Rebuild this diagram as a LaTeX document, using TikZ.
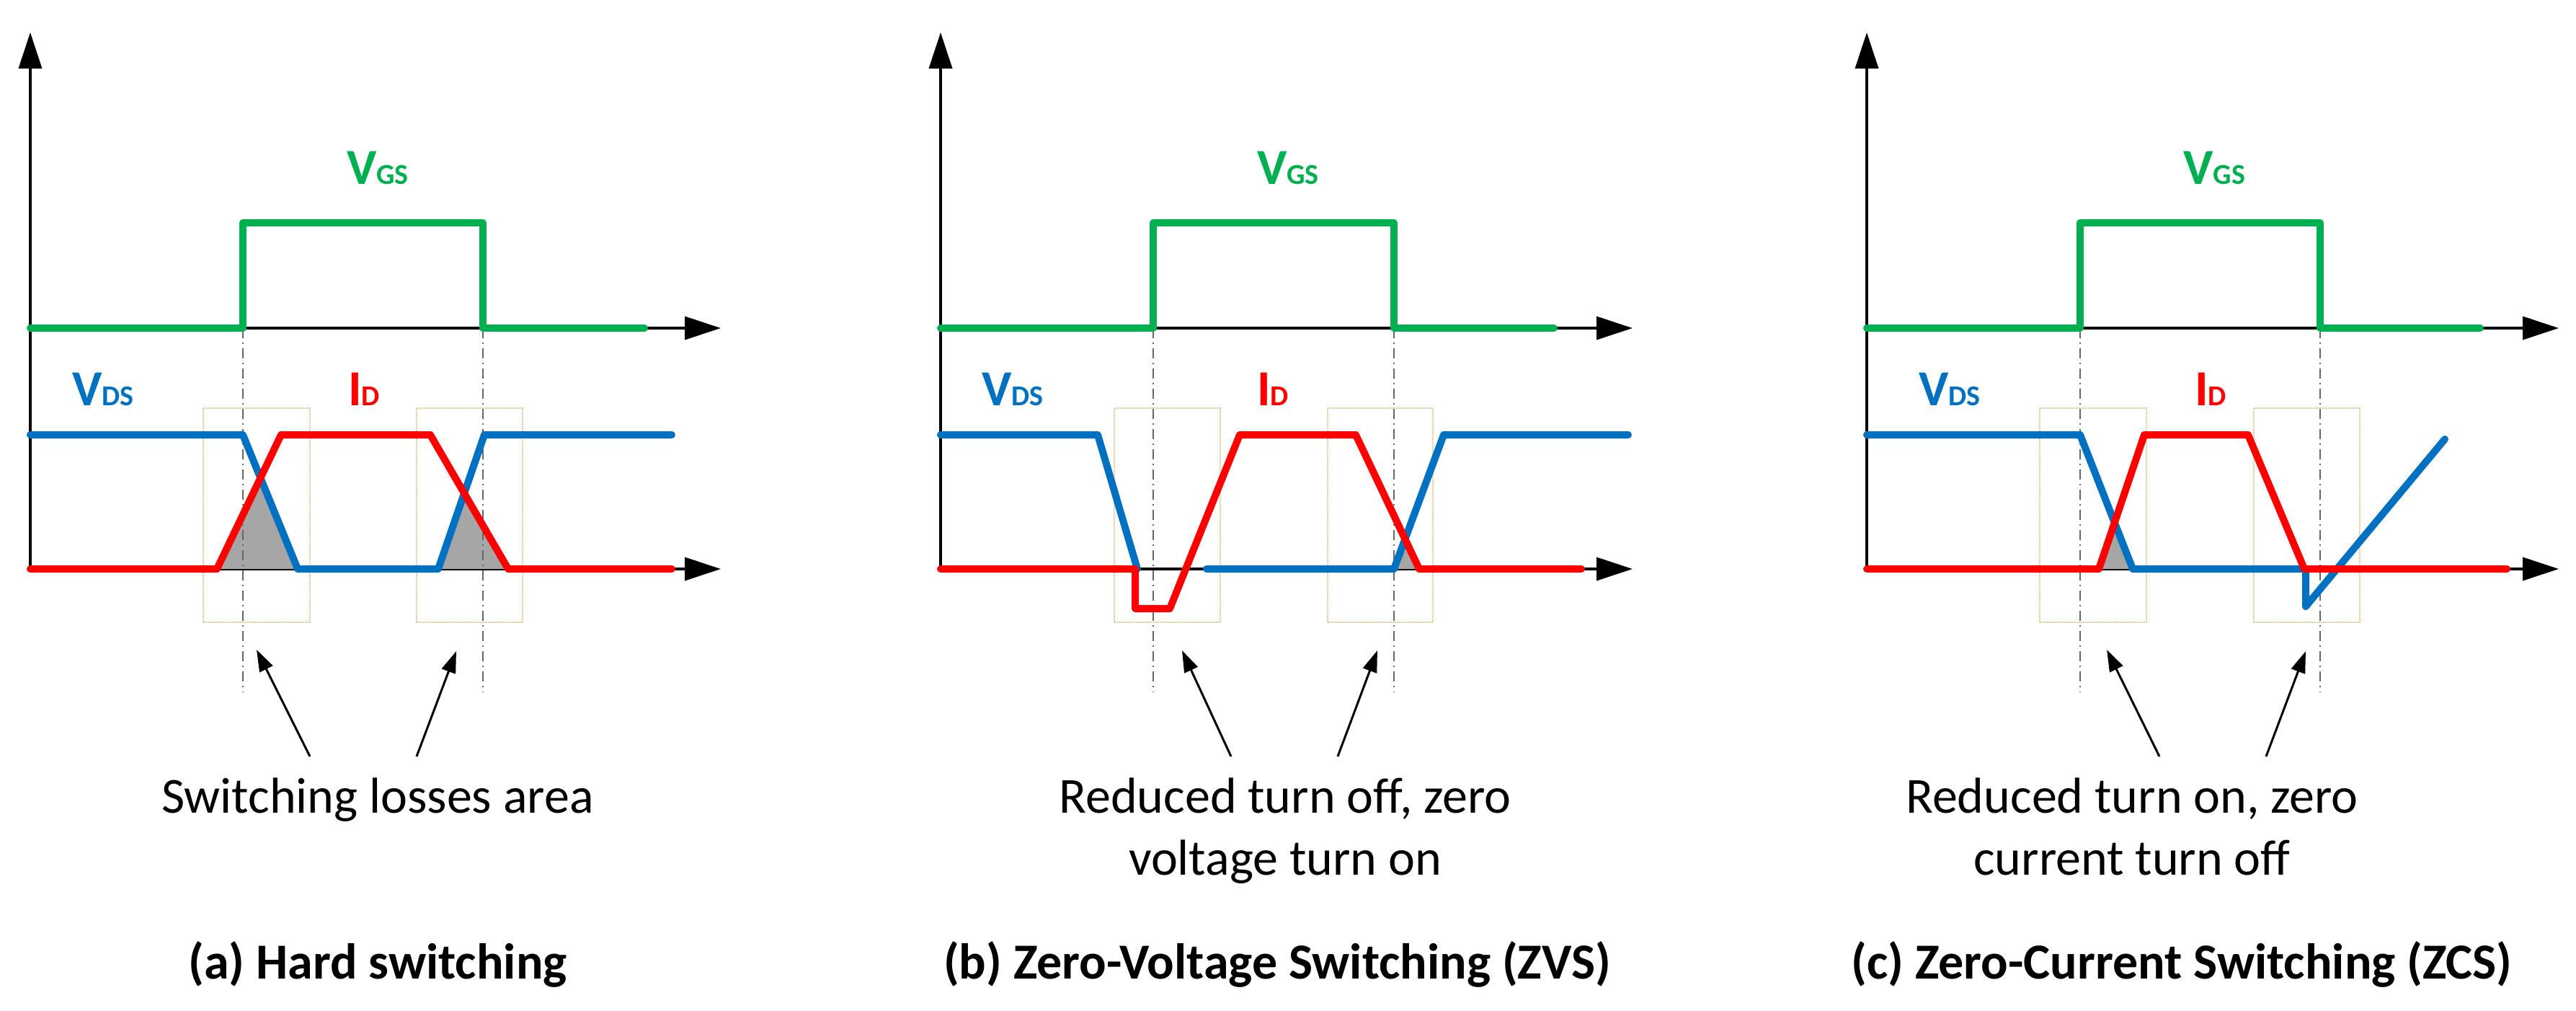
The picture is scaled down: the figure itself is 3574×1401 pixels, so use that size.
\documentclass[tikz,border=0pt]{standalone}
\usepackage{fontspec}
\setmainfont{Carlito}
\usetikzlibrary{arrows.meta}
\definecolor{cg}{RGB}{0,176,80}
\definecolor{cb}{RGB}{0,112,192}
\definecolor{cr}{RGB}{255,0,0}
\definecolor{cbox}{RGB}{225,205,160}
\begin{document}
\begin{tikzpicture}[x=1pt,y=-1pt,
  axis/.style={line width=3.5pt,-{Triangle[length=50pt,width=32pt]}},
  sig/.style={line width=10pt,line join=round,line cap=round},
  vgsline/.style={sig,cg}, vdsline/.style={sig,cb}, idline/.style={sig,cr},
  loss/.style={fill=black!35,draw=none},
  guide/.style={gray!80!black,line width=2pt,dash pattern=on 14pt off 6pt on 2pt off 6pt},
  zone/.style={cbox,line width=2pt,densely dotted},
  pointer/.style={line width=3pt,-{Triangle[length=30pt,width=20pt]}},
  note/.style={font=\fontsize{70}{84}\selectfont,align=center,anchor=base},
  captxt/.style={font=\bfseries\fontsize{70}{84}\selectfont,anchor=base},
  lab/.style={font=\bfseries\fontsize{70}{70}\selectfont,anchor=base,inner sep=0}]
\useasboundingbox (0,0) rectangle (3574,1401);
\newcommand{\sub}[1]{{\fontsize{40}{40}\selectfont #1}}
% ================= panel (a) =================
\coordinate (a0) at (42,789);
\draw[axis] (a0) -- (42,45);
\draw[axis] (42,455) -- (1000,455);
\draw[axis] (a0) -- (1000,789);
\fill[loss] (301,789) -- (361,663) -- (413,789) -- cycle;
\fill[loss] (608,789) -- (644,684) -- (705,789) -- cycle;
\draw[zone] (282,566) rectangle (430,863);
\draw[zone] (578,566) rectangle (725,863);
\draw[guide] (337,455) -- (337,960);
\draw[guide] (670,455) -- (670,960);
\draw[vgsline] (42,455) -- (337,455) -- (337,309) -- (670,309) -- (670,455) -- (894,455);
\draw[vdsline] (42,603) -- (337,603) -- (413,789) -- (608,789) -- (672,603) -- (932,603);
\draw[idline] (42,789) -- (301,789) -- (390,603) -- (597,603) -- (705,789) -- (932,789);
\node[lab,text=cg] (aVGS) at (524,255) {V\sub{GS}};
\node[lab,text=cb] (aVDS) at (143,562) {V\sub{DS}};
\node[lab,text=cr] (aID) at (505,562) {I\sub{D}};
\node[note] (aNote) at (524,1127) {Switching losses area};
\coordinate (aT1) at (430,1049); \coordinate (aH1) at (356,901);
\coordinate (aT2) at (578,1049); \coordinate (aH2) at (633,903);
\draw[pointer] (aT1) -- (aH1);
\draw[pointer] (aT2) -- (aH2);
\node[captxt] (aCap) at (524,1357) {(a) Hard switching};
% ================= panel (b) =================
\coordinate (b0) at (1305,789);
\draw[axis] (b0) -- (1305,45);
\draw[axis] (1305,455) -- (2265,455);
\draw[axis] (b0) -- (2265,789);
\fill[loss] (1934,789) -- (1949,748) -- (1969,789) -- cycle;
\draw[zone] (1546,566) rectangle (1693,863);
\draw[zone] (1842,566) rectangle (1988,863);
\draw[guide] (1600,455) -- (1600,960);
\draw[guide] (1934,455) -- (1934,960);
\draw[vgsline] (1305,455) -- (1600,455) -- (1600,309) -- (1934,309) -- (1934,455) -- (2156,455);
\draw[vdsline] (1305,603) -- (1523,603) -- (1578,789);
\draw[vdsline] (1674,789) -- (1934,789) -- (2003,603) -- (2259,603);
\draw[idline] (1305,789) -- (1575,789) -- (1575,844) -- (1623,844) -- (1720,603) -- (1881,603) -- (1969,789) -- (2194,789);
\node[lab,text=cg] (bVGS) at (1787,255) {V\sub{GS}};
\node[lab,text=cb] (bVDS) at (1405,562) {V\sub{DS}};
\node[lab,text=cr] (bID) at (1766,562) {I\sub{D}};
\node[note] (bNote1) at (1783,1127) {Reduced turn off, zero};
\node[note] (bNote2) at (1783,1213) {voltage turn on};
\coordinate (bT1) at (1708,1049); \coordinate (bH1) at (1640,902);
\coordinate (bT2) at (1856,1049); \coordinate (bH2) at (1911,902);
\draw[pointer] (bT1) -- (bH1);
\draw[pointer] (bT2) -- (bH2);
\node[captxt] (bCap) at (1772,1357) {(b) Zero-Voltage Switching (ZVS)};
% ================= panel (c) =================
\coordinate (c0) at (2590,789);
\draw[axis] (c0) -- (2590,45);
\draw[axis] (2590,455) -- (3550,455);
\draw[axis] (c0) -- (3550,789);
\fill[loss] (2912,789) -- (2934,725) -- (2959,789) -- cycle;
\draw[zone] (2830,566) rectangle (2978,863);
\draw[zone] (3127,566) rectangle (3274,863);
\draw[guide] (2886,455) -- (2886,960);
\draw[guide] (3219,455) -- (3219,960);
\draw[vgsline] (2590,455) -- (2886,455) -- (2886,309) -- (3219,309) -- (3219,455) -- (3441,455);
\draw[vdsline] (2590,603) -- (2886,603) -- (2959,789) -- (3199,789) -- (3199,841) -- (3392,609);
\draw[idline] (2590,789) -- (2912,789) -- (2975,603) -- (3119,603) -- (3197,789) -- (3478,789);
\node[lab,text=cg] (cVGS) at (3072,255) {V\sub{GS}};
\node[lab,text=cb] (cVDS) at (2705,562) {V\sub{DS}};
\node[lab,text=cr] (cID) at (3067,562) {I\sub{D}};
\node[note] (cNote1) at (2958,1127) {Reduced turn on, zero};
\node[note] (cNote2) at (2958,1213) {current turn off};
\coordinate (cT1) at (2996,1049); \coordinate (cH1) at (2923,901);
\coordinate (cT2) at (3144,1049); \coordinate (cH2) at (3199,903);
\draw[pointer] (cT1) -- (cH1);
\draw[pointer] (cT2) -- (cH2);
\node[captxt] (cCap) at (3027,1357) {(c) Zero-Current Switching (ZCS)};
\end{tikzpicture}
\end{document}
